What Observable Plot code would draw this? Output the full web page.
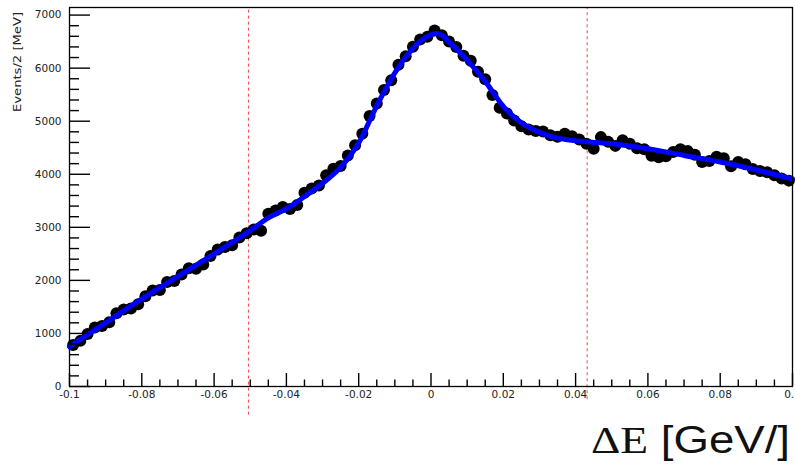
<!DOCTYPE html>
<html>
<head>
<meta charset="utf-8">
<script src="https://cdn.jsdelivr.net/npm/d3@7"></script>
<script src="https://cdn.jsdelivr.net/npm/@observablehq/plot@0.6"></script>
<style>
  body { margin: 0; background: #fff; overflow: hidden; }
</style>
</head>
<body>
<div id="chart"></div>
<script>
// ΔE spectrum: 100 bins of 2 MeV from -0.1 to 0.1 GeV
const binLow = -0.1;
const binWidth = 0.002;
const events = [
  780, 860, 990, 1110, 1140, 1210, 1380, 1450, 1470, 1550,
  1700, 1810, 1820, 1970, 1990, 2110, 2230, 2220, 2300, 2460,
  2580, 2630, 2660, 2810, 2890, 2960, 2935, 3255, 3315, 3385,
  3345, 3420, 3650, 3730, 3790, 3980, 4105, 4155, 4355, 4545,
  4765, 5100, 5335, 5590, 5770, 6065, 6225, 6405, 6540, 6590,
  6710, 6620, 6500, 6400, 6235, 6140, 5930, 5790, 5495, 5255,
  5145, 5015, 4905, 4845, 4815, 4805, 4735, 4705, 4765, 4715,
  4655, 4575, 4480, 4700, 4615, 4535, 4640, 4575, 4490, 4470,
  4350, 4320, 4340, 4420, 4470, 4440, 4370, 4230, 4250, 4330,
  4300, 4150, 4230, 4190, 4100, 4060, 4040, 3980, 3920, 3880
];

// Fitted model, sampled along ΔE
const fitX = [-0.1, -0.09, -0.08, -0.07, -0.06, -0.05, -0.045, -0.04, -0.035, -0.03,
  -0.025, -0.02, -0.015, -0.01, -0.005, -0.0025, 0, 0.0015, 0.003, 0.005,
  0.0075, 0.01, 0.015, 0.02, 0.025, 0.03, 0.035, 0.04, 0.05, 0.06,
  0.07, 0.08, 0.09, 0.1];
const fitY = [750, 1200, 1650, 2075, 2500, 2940, 3180, 3350, 3580, 3830,
  4130, 4590, 5290, 5910, 6370, 6530, 6630, 6655, 6620, 6490,
  6330, 6150, 5750, 5280, 4970, 4790, 4680, 4630, 4575, 4480,
  4355, 4230, 4080, 3910];

// Signal-window boundaries (dashed lines) and their lower ends
const cutX = [-0.0505, 0.0432];
const cutLow = [-540, -250];

// Axis ticks and labels
const yMax = 7143;
const yMajor = [0, 1000, 2000, 3000, 4000, 5000, 6000, 7000];
const yTickLabels = ["0", "1000", "2000", "3000", "4000", "5000", "6000", "7000"];
const xMajor = [-0.1, -0.08, -0.06, -0.04, -0.02, 0, 0.02, 0.04, 0.06, 0.08, 0.1];
const xTickLabels = ["-0.1", "-0.08", "-0.06", "-0.04", "-0.02", "0", "0.02", "0.04", "0.06", "0.08", "0.1"];
const yMinor = d3.range(0, yMax, 200).filter(v => v % 1000 !== 0);
const xMinor = d3.range(-20, 21).filter(k => k % 4 !== 0).map(k => k * 0.005);

const points = events.map((n, i) => ({x: binLow + binWidth * (i + 0.5), y: n}));
const fit = fitX.map((x, i) => ({x, y: fitY[i]}));
const cuts = cutX.map((x, i) => ({x, y1: cutLow[i]}));

// layout
const W = 795, H = 466;
const mL = 69, mR = 3, mT = 7, mB = 80;
const frameW = W - mL - mR;
const frameH = H - mT - mB;

// ticks point into the frame from the left and bottom edges
const tickStyle = {stroke: "#000", strokeWidth: 1.4};
const yTick = len => ({y: d => d, insetRight: frameW - len, ...tickStyle});
const xTick = len => ({x: d => d, insetTop: frameH - len, ...tickStyle});
const labelStyle = {fill: "#222", fontSize: 10.5};

const chart = Plot.plot({
  width: W,
  height: H,
  marginLeft: mL,
  marginRight: mR,
  marginTop: mT,
  marginBottom: mB,
  style: {fontFamily: "'DejaVu Sans', sans-serif", fontSize: "10.5px", color: "#000", background: "#fff"},
  x: {domain: [-0.1, 0.1], axis: null},
  y: {domain: [0, yMax], axis: null},
  marks: [
    Plot.ruleX(cuts, {x: "x", y1: "y1", y2: yMax, stroke: "#ff4545", strokeWidth: 1, strokeDasharray: "3,3"}),
    Plot.dot(points, {x: "x", y: "y", r: 6, fill: "#000", stroke: "none"}),
    Plot.line(fit, {x: "x", y: "y", stroke: "#0000ff", strokeWidth: 5, curve: "monotone-x"}),
    Plot.frame({stroke: "#000", strokeWidth: 1.3}),
    Plot.tickY(yMinor, yTick(10)),
    Plot.tickY(yMajor, yTick(21)),
    Plot.tickX(xMinor, xTick(6.5)),
    Plot.tickX(xMajor, xTick(13)),
    Plot.text(yMajor, {y: d => d, text: (d, i) => yTickLabels[i], frameAnchor: "left",
      textAnchor: "end", dx: -8, ...labelStyle}),
    Plot.text(xMajor, {x: d => d, text: (d, i) => xTickLabels[i], frameAnchor: "bottom",
      lineAnchor: "top", dy: 4, ...labelStyle})
  ]
});

document.getElementById("chart").append(chart);

const svg = d3.select(chart);

// y-axis title, rotated along the left edge
svg.append("text")
  .attr("transform", "translate(21,12) rotate(-90)")
  .attr("text-anchor", "end")
  .attr("font-family", "'DejaVu Sans', sans-serif")
  .attr("font-size", 10)
  .attr("textLength", 100)
  .attr("lengthAdjust", "spacingAndGlyphs")
  .attr("fill", "#222")
  .text("Events/2 [MeV]");

// x-axis title at the lower right
const xt = svg.append("text")
  .attr("transform", "translate(790,453) scale(1.2,1)")
  .attr("text-anchor", "end")
  .attr("font-size", 38)
  .attr("fill", "#111");
xt.append("tspan").attr("font-family", "'Liberation Serif', serif").text("ΔE");
xt.append("tspan").attr("font-family", "'Liberation Sans', sans-serif").text(" [GeV/]");
</script>
</body>
</html>
